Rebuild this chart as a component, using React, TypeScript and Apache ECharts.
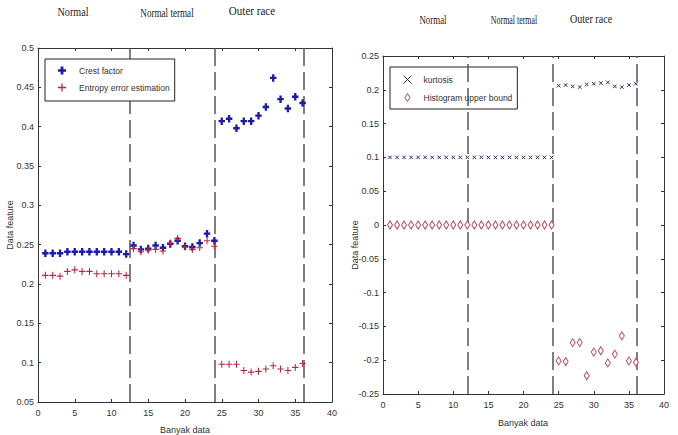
import { useEffect, useRef } from "react";
import * as echarts from "echarts";

// Sample numbers along the x axis (three groups of twelve)
const sampleNo = [
  1, 2, 3, 4, 5, 6, 7, 8, 9, 10, 11, 12,
  13, 14, 15, 16, 17, 18, 19, 20, 21, 22, 23, 24,
  25, 26, 27, 28, 29, 30, 31, 32, 33, 34, 35, 36,
];

// Left panel
const crestFactor = [
  0.239, 0.239, 0.239, 0.241, 0.241, 0.241, 0.241, 0.241, 0.241, 0.241, 0.241, 0.238,
  0.249, 0.244, 0.245, 0.249, 0.246, 0.251, 0.255, 0.248, 0.247, 0.252, 0.264, 0.255,
  0.407, 0.41, 0.398, 0.407, 0.407, 0.414, 0.425, 0.462, 0.435, 0.423, 0.438, 0.43,
];
const entropyError = [
  0.211, 0.211, 0.21, 0.216, 0.218, 0.216, 0.216, 0.213, 0.213, 0.213, 0.213, 0.211,
  0.245, 0.241, 0.243, 0.244, 0.242, 0.252, 0.258, 0.247, 0.244, 0.246, 0.255, 0.248,
  0.098, 0.098, 0.098, 0.09, 0.088, 0.089, 0.092, 0.096, 0.092, 0.09, 0.094, 0.099,
];

// Right panel
const kurtosis = [
  0.1, 0.1, 0.1, 0.1, 0.1, 0.1, 0.1, 0.1, 0.1, 0.1, 0.1, 0.1,
  0.1, 0.1, 0.1, 0.1, 0.1, 0.1, 0.1, 0.1, 0.1, 0.1, 0.1, 0.1,
  0.206, 0.207, 0.205, 0.204, 0.208, 0.209, 0.21, 0.211, 0.205, 0.204, 0.207, 0.209,
];
const histogramUpper = [
  0, 0, 0, 0, 0, 0, 0, 0, 0, 0, 0, 0,
  0, 0, 0, 0, 0, 0, 0, 0, 0, 0, 0, 0,
  -0.201, -0.202, -0.174, -0.174, -0.223, -0.188, -0.186, -0.204, -0.191, -0.164, -0.201, -0.203,
];

// Class boundaries (dashed separators)
const leftBoundaries = [12.5, 24, 36.2];
const rightBoundaries = [12.1, 24.1, 36.1];

const groupTitles = ["Normal", "Normal termal", "Outer race"];
const xAxisTitle = "Banyak data";
const yAxisTitle = "Data feature";

const AXIS_COLOR = "#333";
const LABEL_FONT = "Liberation Sans";

const zip = (xs: number[], ys: number[]) => xs.map((x, i) => [x, ys[i]]);

const fmt = (v: number) => String(parseFloat(v.toFixed(2)));

function boxAxes(grid: number, xmin: number, xmax: number, xint: number, ymin: number, ymax: number, yint: number) {
  const line = { show: true, onZero: false, lineStyle: { color: AXIS_COLOR, width: 1 } };
  const tick = { show: true, inside: true, length: 3, lineStyle: { color: AXIS_COLOR } };
  const label = { fontSize: 9, color: "#333", fontFamily: LABEL_FONT, formatter: fmt };
  const base = { type: "value" as const, gridIndex: grid, splitLine: { show: false }, axisLine: line, axisTick: tick };
  return {
    x: [
      { ...base, position: "bottom", min: xmin, max: xmax, interval: xint, axisLabel: { ...label, margin: 6 } },
      { ...base, position: "top", min: xmin, max: xmax, interval: xint, axisLabel: { show: false } },
    ],
    y: [
      { ...base, position: "left", min: ymin, max: ymax, interval: yint, axisLabel: { ...label, margin: 4 } },
      { ...base, position: "right", min: ymin, max: ymax, interval: yint, axisLabel: { show: false } },
    ],
  };
}

const PLUS = "path://M4.2,0H5.8V4.2H10V5.8H5.8V10H4.2V5.8H0V4.2H4.2Z";
const PLUS_BOLD = "path://M3.2,0H6.8V3.4H10V6.6H6.8V10H3.2V6.6H0V3.4H3.2Z";
const CROSS = "path://M0,0L10,10M10,0L0,10";
const DIAMOND = "path://M5,0L10,8L5,16L0,8Z";

// Dashed class separators; z kept below the legend so an opaque legend hides them
function separators(values: number[]) {
  return {
    silent: true,
    z: 2,
    symbol: ["none", "none"],
    label: { show: false },
    lineStyle: { color: "#555", width: 1.5, type: [18, 6] },
    data: values.map((v) => ({ xAxis: v })),
  };
}

const RED = "#b8283f";
const BLUE = "#1c1ca8";
const NAVY = "#2a2a78";
const PINK = "#c04858";

export default function App() {
  const ref = useRef<HTMLDivElement>(null);

  useEffect(() => {
    if (!ref.current) return;
    const chart = echarts.init(ref.current, null, { renderer: "svg" });

    const leftAxes = boxAxes(0, 0, 40, 5, 0.05, 0.5, 0.05);
    const rightAxes = boxAxes(1, 0, 40, 5, -0.25, 0.25, 0.05);

    const titleL = { fontFamily: "Liberation Serif", fontSize: 13, fill: "#222", align: "center", verticalAlign: "middle" };
    const titleR = { ...titleL, fontSize: 12 };
    const smallStyle = { fontFamily: LABEL_FONT, fontSize: 9, fill: "#333", align: "center", verticalAlign: "middle" };
    const legendText = { fontSize: 8.5, fontFamily: LABEL_FONT, color: "#333", padding: [0, 0, 0, 8] };

    chart.setOption({
      animation: false,
      backgroundColor: "#fff",
      grid: [
        { left: 38, top: 48, width: 294, height: 354 },
        { left: 383, top: 56, width: 281, height: 338 },
      ],
      xAxis: [...leftAxes.x, ...rightAxes.x],
      yAxis: [...leftAxes.y, ...rightAxes.y],
      legend: [
        {
          data: [
            { name: "Crest factor", icon: PLUS_BOLD },
            { name: "Entropy error estimation", icon: PLUS },
          ],
          left: 45,
          top: 59,
          z: 10,
          orient: "vertical",
          padding: [7, 5, 9, 13],
          itemGap: 8,
          itemWidth: 8,
          itemHeight: 8,
          backgroundColor: "#fff",
          borderColor: "#222",
          borderWidth: 1,
          borderRadius: 0,
          textStyle: legendText,
          selectedMode: false,
        },
        {
          data: [
            { name: "kurtosis", icon: CROSS, itemStyle: { color: NAVY, borderColor: NAVY, borderWidth: 1 } },
            { name: "Histogram upper bound", icon: DIAMOND, itemStyle: { color: "#fff", borderColor: PINK, borderWidth: 1 } },
          ],
          left: 390,
          top: 67,
          z: 1,
          orient: "vertical",
          padding: [8, 5, 7, 13],
          itemGap: 9,
          itemWidth: 8,
          itemHeight: 8,
          borderColor: "#222",
          borderWidth: 1,
          borderRadius: 0,
          textStyle: { ...legendText, padding: [0, 0, 0, 7] },
          selectedMode: false,
        },
      ],
      series: [
        {
          name: "Crest factor",
          type: "scatter",
          xAxisIndex: 0,
          yAxisIndex: 0,
          symbol: PLUS_BOLD,
          symbolSize: [6.5, 7.5],
          itemStyle: { color: BLUE, opacity: 1 },
          data: zip(sampleNo, crestFactor),
          markLine: separators(leftBoundaries),
          z: 3,
        },
        {
          name: "Entropy error estimation",
          type: "scatter",
          xAxisIndex: 0,
          yAxisIndex: 0,
          symbol: PLUS,
          symbolSize: [6.5, 7],
          itemStyle: { color: RED, opacity: 1 },
          data: zip(sampleNo, entropyError),
          z: 3,
        },
        {
          name: "kurtosis",
          type: "scatter",
          xAxisIndex: 2,
          yAxisIndex: 2,
          symbol: CROSS,
          symbolSize: 3.5,
          itemStyle: { color: NAVY, borderColor: NAVY, borderWidth: 1, opacity: 1 },
          data: zip(sampleNo, kurtosis),
          markLine: separators(rightBoundaries),
          z: 3,
        },
        {
          name: "Histogram upper bound",
          type: "scatter",
          xAxisIndex: 2,
          yAxisIndex: 2,
          symbol: DIAMOND,
          symbolSize: [5, 8],
          itemStyle: { color: "#fff", borderColor: PINK, borderWidth: 1, opacity: 1 },
          data: zip(sampleNo, histogramUpper),
          z: 3,
        },
      ],
      graphic: [
        { type: "text", x: 73, y: 12, scaleX: 0.78, style: { ...titleL, text: groupTitles[0] } },
        { type: "text", x: 167, y: 12, scaleX: 0.7, style: { ...titleL, text: groupTitles[1] } },
        { type: "text", x: 252, y: 11, scaleX: 0.85, style: { ...titleL, text: groupTitles[2] } },
        { type: "text", x: 433, y: 20, scaleX: 0.74, style: { ...titleR, text: groupTitles[0] } },
        { type: "text", x: 514, y: 20, scaleX: 0.66, style: { ...titleR, text: groupTitles[1] } },
        { type: "text", x: 591, y: 19, scaleX: 0.84, style: { ...titleR, text: groupTitles[2] } },
        { type: "text", x: 185, y: 430, style: { ...smallStyle, text: xAxisTitle } },
        { type: "text", x: 523, y: 423, style: { ...smallStyle, text: xAxisTitle } },
        { type: "text", x: 10, y: 225, rotation: Math.PI / 2, style: { ...smallStyle, text: yAxisTitle } },
        { type: "text", x: 355, y: 245, rotation: Math.PI / 2, style: { ...smallStyle, text: yAxisTitle } },
      ],
    });

    return () => chart.dispose();
  }, []);

  return (
    <div
      ref={ref}
      style={{ position: "fixed", left: 0, top: 0, width: 678, height: 435, background: "#fff" }}
    />
  );
}
